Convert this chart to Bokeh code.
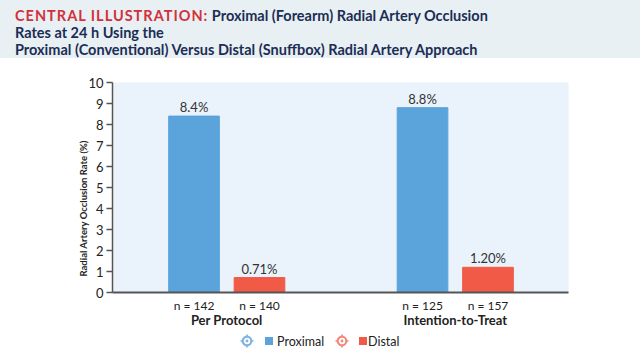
from bokeh.plotting import figure
from bokeh.layouts import column
from bokeh.models import ColumnDataSource, Range1d, LinearAxis, FixedTicker, Div
from bokeh.embed import file_html
from bokeh.resources import INLINE
from bokeh.core.properties import value

# ---- data ----
groups = ["Per Protocol", "Intention-to-Treat"]
series = ["Proximal", "Distal"]
proximal = [8.4, 8.8]
distal = [0.71, 1.20]
proximal_labels = ["8.4%", "8.8%"]
distal_labels = ["0.71%", "1.20%"]
n_proximal = [142, 125]
n_distal = [140, 157]
y_ticks = [0, 1, 2, 3, 4, 5, 6, 7, 8, 9, 10]

title_red = "CENTRAL ILLUSTRATION:"
title_lines = ["Proximal (Forearm) Radial Artery Occlusion",
               "Rates at 24 h Using the",
               "Proximal (Conventional) Versus Distal (Snuffbox) Radial Artery Approach"]
y_label = "Radial Artery Occlusion Rate (%)"

# ---- layout (positions / styles) ----
group_x = [2.255, 6.765]
offset = 0.646
bar_w = 1.0
BLUE = "#5ba3db"
RED = "#f05a46"
ICON_BLUE = "#7db4e3"
ICON_RED = "#f28a7c"
FONT = "Lato"
TXT = "#222222"

px = [g - offset for g in group_x]
dx = [g + offset for g in group_x]

# ---------- title band ----------
html = ('<div style="font-family:Lato,sans-serif;font-weight:bold;font-size:14.5px;'
        'line-height:17px;color:#1c2d55;padding:7px 0 0 15px;white-space:nowrap;">'
        '<span style="color:#d2303c;letter-spacing:1px;">%s</span> %s<br>%s<br>%s</div>'
        % (title_red, title_lines[0], title_lines[1], title_lines[2]))
t = Div(text=html, width=640, height=58,
        styles={"background-color": "#e8f0f3", "margin": "0", "padding": "0"})

# ---------- main chart ----------
src_p = ColumnDataSource(dict(x=px, top=proximal, lab=proximal_labels))
src_d = ColumnDataSource(dict(x=dx, top=distal, lab=distal_labels))

p = figure(width=640, height=272, x_range=Range1d(0, 9), y_range=Range1d(0, 10),
           output_backend="svg", toolbar_location=None,
           x_axis_type=None, y_axis_type=None,
           min_border_left=112, min_border_right=72, min_border_top=24, min_border_bottom=38)
p.background_fill_color = "#eaf2fb"
p.border_fill_color = "white"
p.outline_line_color = None
p.grid.visible = False

yax = LinearAxis(ticker=FixedTicker(ticks=y_ticks), axis_label=y_label + "\u00a0" * 18)
yax.axis_line_color = "#555555"
yax.axis_line_width = 1.5
yax.major_tick_line_color = "#555555"
yax.major_tick_line_width = 1.5
yax.major_tick_out = 6
yax.major_tick_in = 0
yax.minor_tick_line_color = None
yax.major_label_text_font = FONT
yax.major_label_text_font_size = "13px"
yax.major_label_text_color = TXT
yax.major_label_standoff = 3
yax.axis_label_text_font = FONT
yax.axis_label_text_font_size = "9.5px"
yax.axis_label_text_font_style = "bold"
yax.axis_label_text_color = TXT
yax.axis_label_standoff = -4
p.add_layout(yax, "left")

ticks_n = px + dx
over_n = {}
for x, n in zip(px, n_proximal):
    over_n[x] = "n = %d" % n
for x, n in zip(dx, n_distal):
    over_n[x] = "n = %d" % n
xax = LinearAxis(ticker=FixedTicker(ticks=ticks_n), major_label_overrides=over_n)
xax.axis_line_color = "#555555"
xax.axis_line_width = 2
xax.major_tick_line_color = None
xax.major_tick_out = 0
xax.major_tick_in = 0
xax.minor_tick_line_color = None
xax.minor_tick_out = 0
xax.major_label_text_font = FONT
xax.major_label_text_font_size = "12px"
xax.major_label_text_color = TXT
xax.major_label_standoff = 5
p.add_layout(xax, "below")

gax = LinearAxis(ticker=FixedTicker(ticks=group_x),
                 major_label_overrides={x: g for x, g in zip(group_x, groups)})
gax.axis_line_color = None
gax.major_tick_line_color = None
gax.major_tick_out = 0
gax.major_tick_in = 0
gax.minor_tick_line_color = None
gax.minor_tick_out = 0
gax.major_label_text_font = FONT
gax.major_label_text_font_size = "13px"
gax.major_label_text_font_style = "bold"
gax.major_label_text_color = TXT
gax.major_label_standoff = -4
p.add_layout(gax, "below")

rp = p.vbar(x="x", top="top", width=bar_w, source=src_p, fill_color=BLUE, line_color=BLUE)
rd = p.vbar(x="x", top="top", width=bar_w, source=src_d, fill_color=RED, line_color=RED)

for s in (src_p, src_d):
    p.text(x="x", y="top", text="lab", source=s, text_align="center", text_baseline="bottom",
           y_offset=-1, text_font=value(FONT), text_font_size="13px", text_color="#333333")

# ---------- legend row ----------
def icon(col):
    return ('<svg width="14" height="14" viewBox="0 0 14 14" style="display:block">'
            '<circle cx="7" cy="7" r="4.3" fill="none" stroke="%s" stroke-width="2.2"/>'
            '<circle cx="7" cy="7" r="1.4" fill="%s"/>'
            '<path d="M7 0.5V3 M7 11V13.5 M0.5 7H3 M11 7H13.5" stroke="%s" stroke-width="1.6"/>'
            '</svg>' % (col, col, col))

def sq(col):
    return ('<div style="width:8px;height:8px;background:%s"></div>' % col)

def pos(x, y, inner):
    return '<div style="position:absolute;left:%dpx;top:%dpx;">%s</div>' % (x, y, inner)

txt_style = 'font-family:Lato,sans-serif;font-size:12.5px;color:%s;line-height:14px;' % TXT
leg_html = ('<div style="position:relative;width:640px;height:30px;">'
            + pos(240, 4, icon(ICON_BLUE))
            + pos(265, 7, sq(BLUE))
            + pos(277, 4, '<span style="%s">%s</span>' % (txt_style, series[0]))
            + pos(335, 4, icon(ICON_RED))
            + pos(359, 7, sq(RED))
            + pos(368, 4, '<span style="%s">%s</span>' % (txt_style, series[1]))
            + '</div>')
leg = Div(text=leg_html, width=640, height=30,
          styles={"background-color": "white", "margin": "0", "padding": "0"})

layout = column(t, p, leg, spacing=0)
open("out.html", "w").write(file_html(layout, INLINE))
